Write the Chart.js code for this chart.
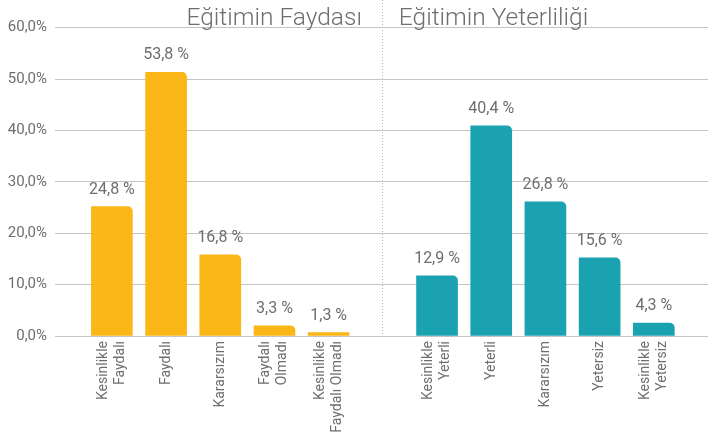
<!DOCTYPE html>
<html>
<head>
<meta charset="utf-8">
<script src="https://cdn.jsdelivr.net/npm/chart.js@4"></script>
<style>
  html, body { margin: 0; padding: 0; background: #ffffff; }
  #wrap { width: 708px; height: 433px; }
</style>
</head>
<body>
<div id="wrap"><canvas id="c" width="708" height="433"></canvas></div>
<script>
// ---- data ----
const groupTitles = ['Eğitimin Faydası', 'Eğitimin Yeterliliği'];
const faydaCategories = [['Kesinlikle', 'Faydalı'], ['Faydalı'], ['Kararsızım'], ['Faydalı', 'Olmadı'], ['Kesinlikle', 'Faydalı Olmadı']];
const yeterlilikCategories = [['Kesinlikle', 'Yeterli'], ['Yeterli'], ['Kararsızım'], ['Yetersiz'], ['Kesinlikle', 'Yetersiz']];
const faydaValues = [25.2, 51.3, 15.8, 2.0, 0.65];
const yeterlilikValues = [11.7, 40.9, 26.1, 15.2, 2.5];
const faydaValueLabels = ['24,8 %', '53,8 %', '16,8 %', '3,3 %', '1,3 %'];
const yeterlilikValueLabels = ['12,9 %', '40,4 %', '26,8 %', '15,6 %', '4,3 %'];
const yTickValues = [0, 10, 20, 30, 40, 50, 60];

// slot layout: [gap, fayda x5, separator, yeterlilik x5]
const faydaSlots = faydaValues.map((_, i) => i + 1);
const yeterlilikSlots = yeterlilikValues.map((_, i) => i + faydaValues.length + 2);
const separatorSlot = faydaValues.length + 1;

const TEXT = '#6d6e70';
const FONT = 'Roboto, "Noto Sans", sans-serif';

const labelPlugin = {
  id: 'labels',
  afterDatasetsDraw(chart) {
    const ctx = chart.ctx;
    const xs = chart.scales.x;
    const area = chart.chartArea;
    ctx.save();
    ctx.fillStyle = TEXT;
    // value labels above bars
    ctx.font = '16px ' + FONT;
    ctx.textAlign = 'center';
    ctx.textBaseline = 'alphabetic';
    const valueLabels = [faydaValueLabels, yeterlilikValueLabels];
    chart.data.datasets.forEach((ds, di) => {
      const meta = chart.getDatasetMeta(di);
      meta.data.forEach((bar, i) => {
        ctx.fillText(valueLabels[di][i], bar.x, bar.y - 13);
      });
    });
    // category labels (rotated)
    ctx.font = '14px ' + FONT;
    const lh = 17;
    const drawCats = (cats, slots) => {
      cats.forEach((lines, i) => {
        const px = xs.getPixelForValue(slots[i]);
        lines.forEach((line, k) => {
          const cx = px + (k - (lines.length - 1) / 2) * lh;
          ctx.save();
          ctx.translate(cx, area.bottom + 5);
          ctx.rotate(-Math.PI / 2);
          ctx.textAlign = 'right';
          ctx.textBaseline = 'middle';
          ctx.fillText(line, 0, 0);
          ctx.restore();
        });
      });
    };
    drawCats(faydaCategories, faydaSlots);
    drawCats(yeterlilikCategories, yeterlilikSlots);
    // group titles flanking the separator
    const sx = xs.getPixelForValue(separatorSlot);
    ctx.font = '300 24.5px ' + FONT;
    ctx.textBaseline = 'alphabetic';
    ctx.textAlign = 'right';
    ctx.fillText(groupTitles[0], sx - 21, 25);
    ctx.textAlign = 'left';
    ctx.fillText(groupTitles[1], sx + 16, 25);
    ctx.restore();
  }
};

const barRadius = { topLeft: 0, topRight: 5, bottomLeft: 0, bottomRight: 0 };

new Chart(document.getElementById('c'), {
  type: 'bar',
  data: {
    datasets: [
      {
        data: faydaValues.map((v, i) => ({ x: faydaSlots[i], y: v })),
        backgroundColor: '#fbb717',
        borderRadius: barRadius,
        borderSkipped: false,
        barThickness: 41,
        grouped: false
      },
      {
        data: yeterlilikValues.map((v, i) => ({ x: yeterlilikSlots[i], y: v })),
        backgroundColor: '#1ba2b1',
        borderRadius: barRadius,
        borderSkipped: false,
        barThickness: 41,
        grouped: false
      }
    ]
  },
  options: {
    responsive: false,
    animation: false,
    devicePixelRatio: 1,
    layout: { padding: { top: 0, right: 0, bottom: 0, left: 0 } },
    plugins: { legend: { display: false }, tooltip: { enabled: false } },
    scales: {
      x: {
        type: 'linear',
        min: -0.05,
        max: 12,
        offset: false,
        afterBuildTicks: (axis) => { axis.ticks = [{ value: separatorSlot }]; },
        afterFit: (axis) => { axis.height = 97; axis.paddingLeft = 0; axis.paddingRight = 0; },
        ticks: { display: false },
        grid: { offset: false, color: '#b5b5b5', lineWidth: 1, drawTicks: false },
        border: { display: false, dash: [1, 2] }
      },
      y: {
        min: 0,
        max: 65.4,
        afterBuildTicks: (axis) => { axis.ticks = yTickValues.map(v => ({ value: v })); },
        afterFit: (axis) => { axis.width = 55; axis.paddingTop = 0; axis.paddingBottom = 0; },
        ticks: {
          padding: 8,
          color: TEXT,
          font: { family: FONT, size: 15 },
          callback: (v) => v.toFixed(1).replace('.', ',') + '%'
        },
        grid: { color: '#c4c4c4', lineWidth: 1, drawTicks: false },
        border: { display: false }
      }
    }
  },
  plugins: [labelPlugin]
});
</script>
</body>
</html>
